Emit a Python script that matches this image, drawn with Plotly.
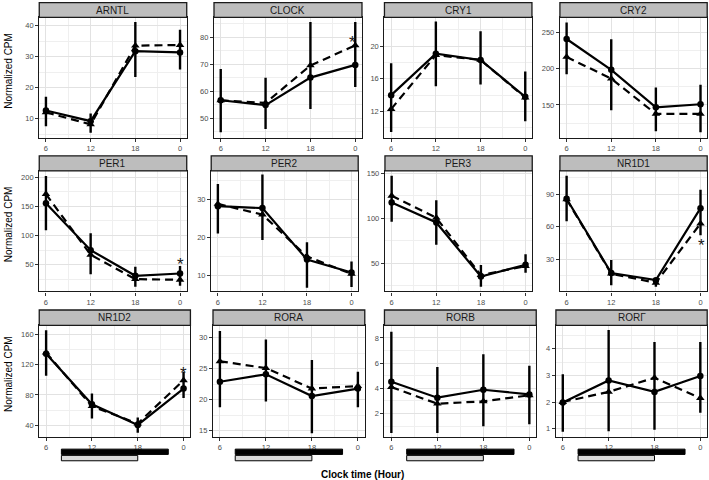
import plotly.graph_objects as go

# ---------------- data ----------------
genes = ["ARNTL", "CLOCK", "CRY1", "CRY2",
         "PER1", "PER2", "PER3", "NR1D1",
         "NR1D2", "RORA", "RORB", "RORΓ"]
clock_hours = [6, 12, 18, 24]
hour_labels = ["6", "12", "18", "0"]

# solid line / circle series
solid_mean = [
    [12.7, 9.25, 31.8, 31.4],
    [56.6, 54.8, 65.0, 69.7],
    [14.0, 19.07, 18.3, 13.8],
    [240.4, 198.2, 146.8, 150.9],
    [155.1, 75.1, 31.2, 35.2],
    [28.2, 27.7, 14.2, 10.8],
    [117.4, 95.2, 35.2, 48.1],
    [85.7, 17.5, 11.0, 77.1],
    [134.5, 67.7, 40.4, 88.4],
    [22.9, 24.1, 20.6, 21.8],
    [4.53, 3.26, 3.89, 3.52],
    [1.98, 2.81, 2.38, 2.98],
]
# dashed line / triangle series
dashed_mean = [
    [12.1, 8.2, 33.6, 33.8],
    [56.6, 55.6, 69.5, 76.9],
    [12.3, 18.9, 18.3, 13.7],
    [215.8, 186.0, 137.7, 137.7],
    [170.9, 67.1, 25.5, 24.4],
    [28.8, 26.0, 15.0, 10.4],
    [124.8, 100.4, 36.7, 46.7],
    [85.1, 16.9, 8.6, 63.0],
    [135.8, 65.1, 42.2, 99.3],
    [26.2, 25.1, 21.8, 22.2],
    [4.1, 2.78, 2.97, 3.45],
    [2.0, 2.38, 2.91, 2.15],
]
# error bar extents (upper / lower ends)
bar_top = [
    [17.1, 11.7, 41.2, 38.7],
    [68.2, 64.9, 85.6, 85.6],
    [17.9, 23.0, 21.8, 16.9],
    [263.2, 240.0, 174.0, 177.6],
    [201.7, 104.0, 46.6, 48.0],
    [34.0, 36.5, 18.7, 13.7],
    [147.0, 120.0, 47.8, 60.0],
    [106.8, 29.4, 12.6, 94.0],
    [165.3, 81.8, 50.1, 110.3],
    [31.1, 29.7, 26.4, 24.5],
    [8.5, 5.7, 6.7, 5.8],
    [3.04, 4.71, 4.25, 4.25],
]
bar_bottom = [
    [7.6, 5.5, 23.5, 25.9],
    [44.7, 45.9, 53.4, 61.5],
    [9.5, 15.1, 15.3, 10.8],
    [192.0, 142.7, 114.0, 112.5],
    [109.1, 34.0, 12.3, 14.0],
    [21.0, 19.3, 6.8, 7.0],
    [96.0, 70.4, 23.7, 39.3],
    [65.0, 6.4, 4.9, 52.3],
    [105.5, 48.8, 29.9, 76.0],
    [18.8, 19.7, 14.6, 18.8],
    [0.46, 0.46, 1.0, 1.15],
    [0.88, 0.9, 0.96, 1.6],
]
# significance asterisks: (gene index, hour, value)
star_gene = [1, 4, 7, 8]
star_hour = [23.6, 24, 24.1, 24]
star_value = [80.0, 58.6, 47.8, 114.5]

# light / activity bars under bottom row (clock hours)
dark_bar = [8, 22]
light_bar = [8, 18]

# y axis ranges / tick steps per panel
y_ranges = [[3.9, 42.7], [42.7, 87.3], [8.8, 23.5], [105, 270],
            [4.4, 210.8], [5.8, 37.5], [18.5, 152.6], [0.6, 111.4],
            [24.6, 171.9], [14.0, 32.0], [0.15, 9.0], [0.69, 4.88]]
y_steps = [10, 10, 4, 50, 50, 10, 50, 30, 40, 5, 2, 1]

# ---------------- layout geometry (pixels) ----------------
W, H = 709, 480
panel_lr = [(39.3, 187.0), (214.3, 362.5), (385.0, 532.7), (560.7, 708.2),
            (39.3, 187.0), (211.5, 358.7), (385.5, 533.0), (560.7, 708.2),
            (39.3, 190.7), (213.3, 365.3), (385.0, 537.0), (556.7, 708.2)]
row_strip = [(0.7, 15.5), (154.5, 169.5), (309.3, 324.7)]
row_plot = [(15.5, 136.3), (169.5, 290.7), (324.7, 436.7)]


def px(x):
    return x / W


def py(y):
    return 1 - y / H


fig = go.Figure()
layout = dict(
    width=W, height=H, margin=dict(l=0, r=0, t=0, b=0),
    paper_bgcolor="white", plot_bgcolor="white", showlegend=False,
    hovermode=False,
    font=dict(family="Liberation Sans, Arial, sans-serif", color="black"),
)
shapes = []
annotations = []

for i, g in enumerate(genes):
    row = i // 4
    ax = "" if i == 0 else str(i + 1)
    xr, yr = "x" + ax, "y" + ax
    l, r = panel_lr[i]
    t, b = row_plot[row]
    ups = [bt - m for bt, m in zip(bar_top[i], solid_mean[i])]
    dns = [m - bb for bb, m in zip(bar_bottom[i], solid_mean[i])]
    fig.add_trace(go.Scatter(
        x=clock_hours, y=solid_mean[i], xaxis=xr, yaxis=yr, mode="lines+markers",
        line=dict(color="black", width=2.2),
        marker=dict(symbol="circle", size=6.5, color="black"),
        error_y=dict(type="data", array=ups, arrayminus=dns, symmetric=False,
                     color="black", thickness=2.4, width=0),
    ))
    fig.add_trace(go.Scatter(
        x=clock_hours, y=dashed_mean[i], xaxis=xr, yaxis=yr, mode="lines+markers",
        line=dict(color="black", width=2.2, dash="8px,5px"),
        marker=dict(symbol="triangle-up", size=7.5, color="black"),
    ))
    step = y_steps[i]
    lo = y_ranges[i][0]
    tick0 = step * (int(lo // step) + 1)
    layout["xaxis" + ax] = dict(
        domain=[px(l), px(r)], anchor=yr, range=[5.1, 24.9],
        tickmode="array", tickvals=clock_hours, ticktext=hour_labels,
        showgrid=True, gridcolor="#e2e2e2", gridwidth=0.9,
        minor=dict(tickvals=[9, 15, 21], showgrid=True, gridcolor="#efefef",
                   gridwidth=0.6, ticks=""),
        showline=True, linecolor="#1a1a1a", linewidth=1.3, mirror=True,
        ticks="outside", ticklen=3, tickwidth=1, tickcolor="#333333",
        tickfont=dict(size=7.5, color="#4d4d4d"), zeroline=False,
        fixedrange=True,
    )
    layout["yaxis" + ax] = dict(
        domain=[py(b), py(t)], anchor=xr, range=y_ranges[i],
        tickmode="linear", tick0=tick0, dtick=step,
        showgrid=True, gridcolor="#e2e2e2", gridwidth=0.9,
        minor=dict(tickmode="linear", tick0=tick0 - step / 2, dtick=step / 2,
                   showgrid=True, gridcolor="#efefef", gridwidth=0.6, ticks=""),
        showline=True, linecolor="#1a1a1a", linewidth=1.3, mirror=True,
        ticks="outside", ticklen=3, tickwidth=1, tickcolor="#333333",
        tickfont=dict(size=7.5, color="#4d4d4d"), zeroline=False,
        fixedrange=True,
    )
    # strip
    st, sb = row_strip[row]
    shapes.append(dict(type="rect", xref="paper", yref="paper",
                       x0=px(l), x1=px(r), y0=py(sb), y1=py(st),
                       fillcolor="#bdbdbd", line=dict(color="#1a1a1a", width=1.3),
                       layer="above"))
    annotations.append(dict(xref="paper", yref="paper", x=px((l + r) / 2),
                            y=py((st + sb) / 2), text=g, showarrow=False,
                            xanchor="center", yanchor="middle",
                            font=dict(size=10, color="#1a1a1a")))
    # light / dark bars below the bottom row
    if row == 2:
        shapes.append(dict(type="rect", xref=xr, yref="paper",
                           x0=dark_bar[0], x1=dark_bar[1],
                           y0=py(454.3), y1=py(449.0),
                           fillcolor="black", line=dict(color="black", width=1)))
        shapes.append(dict(type="rect", xref=xr, yref="paper",
                           x0=light_bar[0], x1=light_bar[1],
                           y0=py(460.7), y1=py(455.3),
                           fillcolor="#d9d9d9", line=dict(color="black", width=1)))

for gi, hx, val in zip(star_gene, star_hour, star_value):
    ax = "" if gi == 0 else str(gi + 1)
    annotations.append(dict(xref="x" + ax, yref="y" + ax, x=hx, y=val, text="*",
                            showarrow=False, xanchor="center", yanchor="middle",
                            yshift=-5, font=dict(size=17, color="#1a1a1a")))

for row in range(3):
    st = row_strip[row][0]
    b = row_plot[row][1]
    annotations.append(dict(xref="paper", yref="paper", x=px(8.5), y=py((st + b) / 2),
                            text="Normalized CPM", textangle=-90, showarrow=False,
                            xanchor="center", yanchor="middle",
                            font=dict(size=10, color="black")))

annotations.append(dict(xref="paper", yref="paper", x=px(363), y=py(474),
                        text="<b>Clock time (Hour)</b>", showarrow=False,
                        xanchor="center", yanchor="middle",
                        font=dict(size=10, color="black")))

layout["shapes"] = shapes
layout["annotations"] = annotations
fig.update_layout(**layout)
fig.write_html(
    "out.html",
    config={"displayModeBar": False},
    post_script="document.body.style.margin='0';document.body.style.overflow='hidden';",
)
